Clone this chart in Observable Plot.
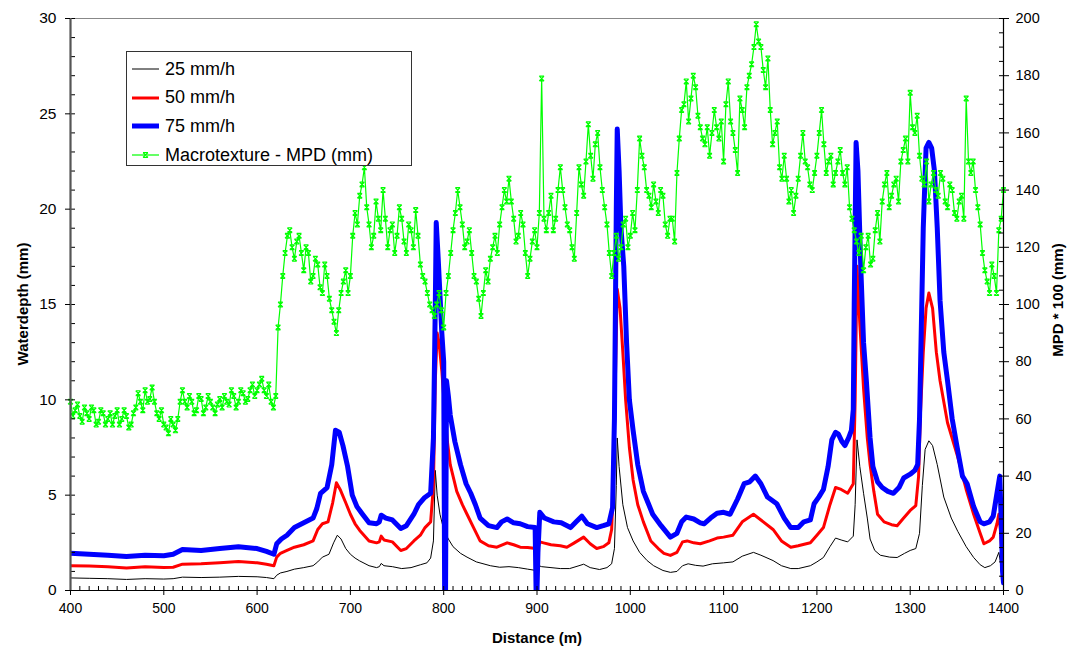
<!DOCTYPE html>
<html><head><meta charset="utf-8">
<script src="https://cdn.jsdelivr.net/npm/d3@7"></script>
<script src="https://cdn.jsdelivr.net/npm/@observablehq/plot@0.6"></script>
<style>
body{margin:0;background:#fff;font-family:"Liberation Sans",Arial,sans-serif;}
#wrap{position:relative;width:1067px;height:651px;overflow:hidden;}
#legend{position:absolute;left:126px;top:51px;width:286px;height:115px;border:1px solid #333;background:#fff;box-sizing:border-box;}
.row{position:absolute;left:0;height:26px;display:flex;align-items:center;font-size:18px;color:#000;white-space:nowrap;}
.row svg{margin-left:5px;margin-right:6px;}
.title{position:absolute;font-weight:bold;font-size:15px;color:#000;white-space:nowrap;}
</style></head>
<body><div id="wrap"></div>
<script>
// ---- data ----
const seriesNames = ["25 mm/h", "50 mm/h", "75 mm/h", "Macrotexture - MPD (mm)"];
const xTicks = d3.range(400, 1401, 100);
const yLeftTicks = d3.range(0, 31, 5);
const yRightTicks = d3.range(0, 201, 20);

// water depth (mm) [distance m, depth]
const depth25 = [[400,0.66],[420,0.64],[440,0.62],[460,0.58],[480,0.62],[500,0.6],[510,0.62],[520,0.7],[540,0.68],[560,0.7],[580,0.74],[600,0.72],[610,0.68],[618,0.62],[621,0.8],[625,0.92],[632,1.0],[640,1.12],[650,1.2],[660,1.3],[665,1.5],[670,1.75],[677,1.9],[682,2.5],[686,2.9],[690,2.7],[695,2.2],[700,1.9],[705,1.7],[710,1.55],[720,1.3],[728,1.2],[731,1.25],[733,1.42],[736,1.3],[745,1.25],[755,1.15],[765,1.2],[775,1.35],[782,1.45],[786,1.7],[789,2.6],[791,6.3],[793,5.0],[796,4.0],[800,3.2],[805,2.7],[810,2.3],[818,1.95],[825,1.75],[835,1.5],[850,1.3],[860,1.22],[870,1.25],[880,1.2],[890,1.12],[899,1.05],[900,0.8],[902,1.3],[905,1.25],[915,1.2],[925,1.15],[935,1.15],[945,1.3],[950,1.38],[957,1.2],[967,1.1],[975,1.2],[980,1.4],[983,2.2],[985,5.5],[986,8.0],[988,6.5],[992,4.5],[997,3.3],[1003,2.6],[1010,2.0],[1018,1.57],[1025,1.3],[1035,1.05],[1043,0.95],[1050,1.0],[1056,1.3],[1062,1.4],[1070,1.32],[1078,1.28],[1088,1.4],[1100,1.45],[1110,1.5],[1120,1.8],[1132,2.0],[1140,1.85],[1153,1.57],[1162,1.3],[1172,1.15],[1180,1.15],[1193,1.3],[1200,1.5],[1207,1.73],[1214,2.3],[1220,2.75],[1226,2.65],[1233,2.55],[1239,2.85],[1241,4.5],[1243,7.9],[1246,6.5],[1250,5.1],[1254,3.8],[1257,2.7],[1262,2.1],[1268,1.85],[1278,1.75],[1286,1.73],[1294,1.95],[1300,2.1],[1306,2.2],[1310,3.0],[1313,5.5],[1316,7.4],[1320,7.85],[1324,7.6],[1329,6.6],[1336,4.9],[1344,3.8],[1351,3.1],[1360,2.3],[1368,1.73],[1375,1.35],[1380,1.2],[1386,1.3],[1391,1.5],[1395,2.0],[1397,1.4],[1399,0.7],[1400,0.3]];

const depth50 = [[400,1.3],[420,1.28],[440,1.24],[460,1.18],[480,1.25],[500,1.2],[510,1.22],[520,1.38],[540,1.4],[560,1.45],[580,1.52],[600,1.45],[610,1.38],[618,1.3],[621,1.75],[625,1.95],[632,2.1],[640,2.27],[650,2.4],[660,2.6],[665,3.2],[670,3.5],[676,3.6],[681,4.6],[685,5.65],[689,5.3],[695,4.6],[700,4.0],[705,3.5],[710,3.15],[720,2.6],[728,2.5],[731,2.55],[733,2.85],[736,2.65],[745,2.55],[754,2.1],[760,2.2],[768,2.6],[775,2.9],[780,3.3],[786,3.6],[789,5.5],[791,11],[793,13.5],[795,13],[798,11.5],[801,9.5],[804,7.8],[807,6.6],[811,5.8],[814,5.2],[820,4.5],[825,4.0],[832,3.3],[839,2.6],[848,2.35],[857,2.27],[868,2.5],[875,2.4],[882,2.27],[890,2.25],[899,2.2],[901,2.2],[903,2.55],[907,2.5],[915,2.4],[925,2.35],[932,2.27],[940,2.5],[950,2.8],[957,2.45],[964,2.2],[971,2.3],[977,2.5],[980,3.2],[982,5.8],[984,11],[986,15.8],[989,14.8],[992,12.5],[995,10],[999,7.5],[1003,5.8],[1008,4.5],[1014,3.6],[1022,2.6],[1030,2.2],[1036,1.95],[1043,1.84],[1050,2.0],[1056,2.55],[1061,2.6],[1068,2.5],[1075,2.45],[1085,2.6],[1093,2.75],[1100,2.8],[1110,2.9],[1120,3.6],[1132,4.0],[1140,3.7],[1153,3.2],[1162,2.6],[1172,2.27],[1180,2.35],[1193,2.5],[1200,2.9],[1207,3.3],[1214,4.5],[1220,5.4],[1226,5.3],[1233,5.1],[1239,5.6],[1241,10],[1243,17],[1246,14],[1250,10.6],[1254,8.0],[1257,6.6],[1261,5.2],[1265,4.0],[1272,3.6],[1280,3.45],[1286,3.4],[1293,3.8],[1300,4.2],[1306,4.45],[1309,6],[1311,9.3],[1314,12.5],[1317,14.8],[1320,15.6],[1324,14.8],[1328,12.5],[1332,11],[1340,8.8],[1351,7.0],[1360,5.3],[1368,4.0],[1375,3.0],[1379,2.45],[1385,2.6],[1389,2.8],[1393,3.5],[1395,4.0],[1397,3.0],[1399,1.0],[1400,0.6]];

const depth75 = [[400,1.95],[420,1.9],[440,1.85],[460,1.78],[480,1.85],[500,1.82],[510,1.9],[520,2.15],[540,2.1],[560,2.2],[580,2.3],[600,2.2],[610,2.05],[618,1.9],[621,2.45],[626,2.7],[632,2.9],[640,3.3],[650,3.55],[660,3.8],[664,4.3],[668,5.1],[675,5.4],[680,6.6],[684,8.4],[688,8.3],[692,7.6],[697,6.5],[702,5.0],[707,4.4],[713,4.0],[720,3.55],[728,3.5],[731,3.6],[733,3.95],[738,3.8],[745,3.7],[754,3.25],[760,3.4],[768,4.0],[773,4.5],[779,4.85],[786,5.1],[789,8],[791,15],[792,19.3],[794,17.5],[796,15.5],[798,13.5],[800,12],[801,0],[802,0],[803,11],[805,10.2],[807,9.2],[812,7.8],[818,6.6],[824,5.6],[829,5.1],[834,4.5],[839,3.8],[848,3.4],[857,3.3],[862,3.6],[868,3.75],[875,3.55],[882,3.5],[890,3.35],[898,3.3],[899,0],[900,0],[901,2],[903,4.1],[908,3.8],[918,3.6],[926,3.55],[936,3.3],[942,3.6],[948,3.9],[954,3.5],[964,3.3],[971,3.4],[977,3.5],[981,4.35],[983,9],[985,20],[986,24.2],[988,22],[990,19],[993,17],[996,13],[999,10],[1003,8.4],[1008,6.6],[1014,5.2],[1019,4.6],[1024,4.0],[1033,3.4],[1043,2.8],[1050,3.0],[1055,3.6],[1060,3.85],[1068,3.75],[1075,3.55],[1079,3.5],[1086,3.8],[1093,4.05],[1100,4.1],[1107,4.0],[1115,4.8],[1122,5.6],[1128,5.7],[1134,6.0],[1140,5.6],[1147,4.9],[1157,4.55],[1165,3.8],[1172,3.3],[1180,3.3],[1186,3.6],[1193,3.7],[1197,4.55],[1202,4.9],[1207,5.3],[1212,6.5],[1216,7.9],[1220,8.3],[1223,8.2],[1227,7.8],[1230,7.6],[1234,8.0],[1237,8.4],[1239,9.5],[1240,15],[1242,23.5],[1244,22],[1247,17],[1250,13],[1253,11],[1257,8],[1260,6.5],[1265,5.7],[1270,5.4],[1276,5.2],[1282,5.1],[1288,5.4],[1293,5.9],[1300,6.1],[1305,6.3],[1308,6.6],[1310,9],[1312,14],[1314,19],[1317,23.2],[1320,23.5],[1323,23.2],[1326,22],[1329,19],[1332,15.2],[1336,12.5],[1340,11],[1345,9],[1350,7.6],[1356,6.0],[1361,5.6],[1368,4.4],[1375,3.6],[1379,3.5],[1385,3.6],[1389,3.9],[1393,5.1],[1396,6.0],[1398,3],[1399,1.0],[1400,0.4]];

// macrotexture MPD*100 (mm): readings every 5 m (400..1400) and in-between readings (402.5..1397.5)
const mpdDistance = d3.range(400, 1401, 5);
const mpdValues = [
 66,63,61,64,60,63,59,62,60,58,
 63,60,61,58,64,66,70,67,66,60,
 58,55,58,60,70,64,66,63,67,64,
 66,62,67,68,65,68,66,69,67,72,
 70,74,68,66,68,100,118,126,116,124,
 112,118,110,114,104,110,98,90,104,112,
 110,132,138,148,128,124,130,140,120,128,
 124,130,118,126,133,114,108,100,96,104,
 92,110,126,140,128,122,118,108,96,112,
 116,124,128,140,144,130,124,128,110,122,
 120,179,126,138,130,148,134,126,116,148,
 138,163,144,160,140,128,110,124,120,130,
 124,126,158,148,138,142,132,138,124,130,
 146,168,178,172,176,162,156,152,168,158,
 150,178,160,146,168,176,184,198,190,176,
 168,160,148,152,136,132,144,160,148,140,
 152,168,146,152,146,154,142,134,126,118,
 112,124,116,132,136,146,138,144,150,158,
 174,160,152,142,136,146,138,144,134,140,
 130,138,172,146,140,128,112,104,110,126,
 140];
const mpdMidDistance = d3.range(402.5, 1400, 5);
const mpdMidValues = [
 61,65,59,62,64,58,63,58,62,61,
 58,63,57,62,69,63,66,71,62,63,
 57,60,56,66,66,68,62,68,62,68,
 64,65,64,66,70,64,70,66,70,68,
 72,70,72,64,92,110,124,120,122,118,
 120,108,116,106,114,102,94,98,108,104,
 124,128,142,134,120,136,126,130,126,118,
 134,122,128,120,124,110,104,98,100,98,
 104,118,132,134,120,126,110,102,104,108,
 120,118,134,136,136,122,132,118,116,126,
 132,130,132,126,140,140,128,120,132,142,
 150,152,156,148,134,118,118,116,128,120,
 132,140,152,140,134,136,140,128,130,122,
 158,170,164,180,166,158,162,160,162,164,
 170,164,154,172,162,180,190,192,182,186,
 156,164,144,144,140,138,152,150,142,146,
 160,156,150,142,150,146,148,130,122,124,
 120,114,126,122,142,134,142,136,154,150,
 162,166,144,150,142,140,146,136,142,132,
 136,130,150,150,134,118,108,114,104,130];

// ---- chart ----
const W = 1067, H = 651, mL = 70, mR = 64, mT = 18, mB = 61;
const pw = W - mL - mR, ph = H - mT - mB;
const K = 30 / 200; // right axis -> left axis units
const mpd = mpdDistance.map((d, i) => ({d, v: mpdValues[i] * K}))
  .concat(mpdMidDistance.map((d, i) => ({d, v: mpdMidValues[i] * K})))
  .sort((a, b) => a.d - b.d);
const font = '"Liberation Sans", Arial, sans-serif';

// hourglass-like "x" marker
const xMarker = {
  draw(ctx, size) {
    const s = Math.sqrt(size / Math.PI);
    ctx.moveTo(-s, -s); ctx.lineTo(s, s);
    ctx.moveTo(-s, s); ctx.lineTo(s, -s);
    ctx.moveTo(-s, -s); ctx.lineTo(s, -s);
    ctx.moveTo(-s, s); ctx.lineTo(s, s);
  }
};

const chart = Plot.plot({
  width: W, height: H,
  marginLeft: mL, marginRight: mR, marginTop: mT, marginBottom: mB,
  style: {fontFamily: font, fontSize: "14.5px", color: "#000", background: "#fff"},
  x: {domain: [400, 1400]},
  y: {domain: [0, 30]},
  marks: [
    Plot.ruleY([30], {stroke: "#888", strokeWidth: 1.2}),
    Plot.line(depth25, {x: d => d[0], y: d => d[1], stroke: "#000", strokeWidth: 1, clip: true}),
    Plot.line(depth50, {x: d => d[0], y: d => d[1], stroke: "#ff0000", strokeWidth: 3, clip: true}),
    Plot.line(depth75, {x: d => d[0], y: d => d[1], stroke: "#0000ff", strokeWidth: 5, clip: true}),
    Plot.line(mpd, {x: "d", y: "v", stroke: "#00ff00", strokeWidth: 1.2, clip: true}),
    Plot.dot(mpd, {x: "d", y: "v", symbol: xMarker, r: 2.4, stroke: "#00ff00", strokeWidth: 1.2}),
    // minor ticks (inward)
    Plot.tickY(d3.range(0, 31, 1), {y: d => d, insetRight: pw - 5, stroke: "#000"}),
    Plot.tickY(d3.range(0, 201, 5).map(v => v * K), {y: d => d, insetLeft: pw - 4, stroke: "#000"}),
    Plot.tickX(d3.range(400, 1401, 10), {x: d => d, insetTop: ph - 4, stroke: "#000"}),
    // axis lines
    Plot.ruleY([0], {stroke: "#000", strokeWidth: 1.2}),
    Plot.ruleX([1400], {stroke: "#000", strokeWidth: 1.2}),
    Plot.ruleX([400], {stroke: "#555", strokeWidth: 2.2}),
    Plot.axisX({ticks: xTicks, tickFormat: d => String(d), tickSize: 5, tickPadding: 8, label: null, fontSize: 14}),
    Plot.axisY({anchor: "left", ticks: yLeftTicks, tickFormat: d => String(d), tickSize: 5, tickPadding: 9, label: null, fontSize: 15.5}),
    Plot.axisY({anchor: "right", ticks: yRightTicks.map(v => v * K), tickFormat: y => String(Math.round(y / K)), tickSize: 5, tickPadding: 7, label: null, fontSize: 14.5})
  ]
});

const wrap = document.getElementById("wrap");
wrap.appendChild(chart);

// axis titles
function addTitle(text, x, y, rot) {
  const t = document.createElement("div");
  t.className = "title";
  t.textContent = text;
  t.style.left = x + "px";
  t.style.top = y + "px";
  t.style.transform = "translate(-50%,-50%)" + (rot ? " rotate(-90deg)" : "");
  wrap.appendChild(t);
}
addTitle("Waterdepth (mm)", 22, 304, true);
addTitle("Distance (m)", 537, 637, false);
addTitle("MPD * 100 (mm)", 1057, 300, true);

// legend
const legend = document.createElement("div");
legend.id = "legend";
const styles = [
  {stroke: "#000", w: 1, marker: false},
  {stroke: "#ff0000", w: 3, marker: false},
  {stroke: "#0000ff", w: 5, marker: false},
  {stroke: "#00ff00", w: 1.2, marker: true}
];
seriesNames.forEach((name, i) => {
  const r = document.createElement("div");
  r.className = "row";
  r.style.top = (4 + i * 28.7) + "px";
  const s = styles[i];
  r.innerHTML = `<svg width="27" height="10"><line x1="0" x2="27" y1="5" y2="5" stroke="${s.stroke}" stroke-width="${s.w}"/>` +
    (s.marker ? `<path d="M11,2.6L16,7.4M11,7.4L16,2.6M11,2.6H16M11,7.4H16" stroke="${s.stroke}" stroke-width="1.2"/>` : "") +
    `</svg><span>${name}</span>`;
  legend.appendChild(r);
});
wrap.appendChild(legend);
</script>
</body></html>
